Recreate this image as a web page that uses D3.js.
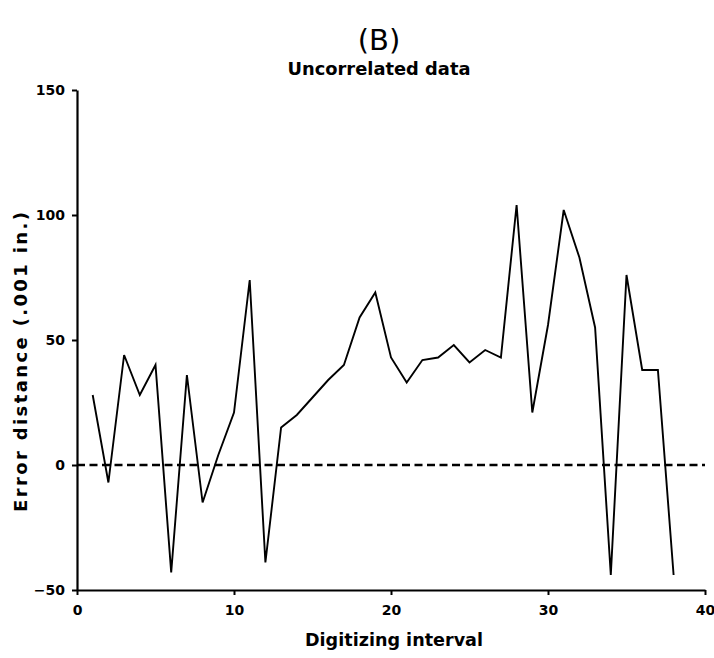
<!DOCTYPE html>
<html>
<head>
<meta charset="utf-8">
<script src="https://cdn.jsdelivr.net/npm/d3@7"></script>
<style>
  html, body { margin: 0; padding: 0; background: #fff; }
  svg { display: block; }
  text { font-family: "DejaVu Sans", sans-serif; font-weight: bold; fill: #000; }
</style>
</head>
<body>
<div id="chart"></div>
<script>
// ── Datos ───────────────────────────────────────────────
const intervals = [1, 2, 3, 4, 5, 6, 7, 8, 9, 10, 11, 12, 13, 14, 15, 16, 17, 18, 19,
                   20, 21, 22, 23, 24, 25, 26, 27, 28, 29, 30, 31, 32, 33, 34, 35, 36, 37, 38];
const errorValues = [28, -7, 44, 28, 40, -43, 36, -15, 4, 21, 74, -39, 15, 20, 27, 34, 40, 59, 69,
                     43, 33, 42, 43, 48, 41, 46, 43, 104, 21, 56, 102, 83, 55, -44, 76, 38, 38, -44];
const xTicks = [0, 10, 20, 30, 40];
const yTicks = [-50, 0, 50, 100, 150];
const titleTop = '(B)';
const titleSub = 'Uncorrelated data';
const xLabel = 'Digitizing interval';
const yLabel = 'Error distance (.001 in.)';

const W = 714, H = 658;
const margin = { left: 77, right: 9, top: 90, bottom: 68 };

const svg = d3.select('#chart').append('svg')
    .attr('width', W).attr('height', H);

const x = d3.scaleLinear().domain([0, 40]).range([margin.left, W - margin.right]);
const y = d3.scaleLinear().domain([-50, 150]).range([H - margin.bottom, margin.top]);

// ── Ejes ────────────────────────────────────────────────
const xAxis = svg.append('g')
    .attr('transform', `translate(0,${y(-50)})`)
    .call(d3.axisBottom(x).tickValues(xTicks).tickSize(5).tickPadding(8).tickSizeOuter(0));
const yAxis = svg.append('g')
    .attr('transform', `translate(${x(0)},0)`)
    .call(d3.axisLeft(y).tickValues(yTicks).tickSize(5).tickPadding(7).tickSizeOuter(0));

[xAxis, yAxis].forEach(ax => {
    ax.select('.domain').attr('stroke', '#000').attr('stroke-width', 2.2);
    ax.selectAll('.tick line').attr('stroke', '#000').attr('stroke-width', 2);
    ax.selectAll('.tick text')
        .style('font-size', '14px').style('font-weight', 'bold')
        .style('font-family', '"DejaVu Sans", sans-serif').attr('fill', '#000');
});
xAxis.selectAll('.tick text').attr('dy', '0.85em');

// Línea de cero (discontinua)
svg.append('line')
    .attr('x1', x(0)).attr('x2', x(40))
    .attr('y1', y(0)).attr('y2', y(0))
    .attr('stroke', '#000').attr('stroke-width', 2.6)
    .attr('stroke-dasharray', '8,4.5');

// Serie
const data = intervals.map((d, i) => ({ x: d, y: errorValues[i] }));
svg.append('path')
    .datum(data)
    .attr('fill', 'none')
    .attr('stroke', '#000')
    .attr('stroke-width', 1.9)
    .attr('stroke-linejoin', 'miter')
    .attr('d', d3.line().x(d => x(d.x)).y(d => y(d.y)));

// ── Títulos ─────────────────────────────────────────────
svg.append('text').attr('x', 379).attr('y', 50)
    .attr('text-anchor', 'middle').style('font-size', '29px').style('font-weight', 'normal')
    .text(titleTop);
svg.append('text').attr('x', 379).attr('y', 75)
    .attr('text-anchor', 'middle').style('font-size', '17px')
    .attr('textLength', 183).attr('lengthAdjust', 'spacingAndGlyphs')
    .text(titleSub);
svg.append('text').attr('x', 394).attr('y', 646)
    .attr('text-anchor', 'middle').style('font-size', '18px')
    .attr('textLength', 178).attr('lengthAdjust', 'spacingAndGlyphs')
    .text(xLabel);
svg.append('text')
    .attr('transform', `translate(27,362) rotate(-90)`)
    .attr('text-anchor', 'middle').style('font-size', '18px')
    .attr('textLength', 300).attr('lengthAdjust', 'spacing')
    .text(yLabel);
</script>
</body>
</html>
